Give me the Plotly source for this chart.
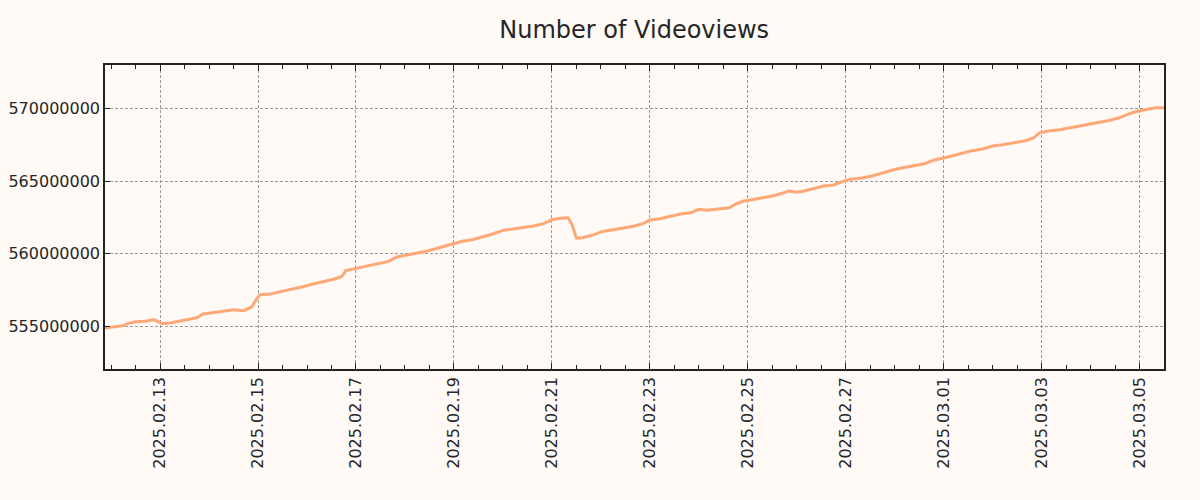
import plotly.graph_objects as go

timestamps = [
    "2025-02-11 21:00", "2025-02-12 06:00", "2025-02-12 08:00", "2025-02-12 12:00",
    "2025-02-12 17:00", "2025-02-12 21:00", "2025-02-13 01:00", "2025-02-13 03:00",
    "2025-02-13 08:00", "2025-02-13 14:00", "2025-02-13 18:00", "2025-02-13 21:00",
    "2025-02-14 02:00", "2025-02-14 07:00", "2025-02-14 12:00", "2025-02-14 17:00",
    "2025-02-14 21:00", "2025-02-14 23:00", "2025-02-15 01:00", "2025-02-15 06:00",
    "2025-02-15 11:00", "2025-02-15 15:00", "2025-02-15 22:00", "2025-02-16 03:00",
    "2025-02-16 08:00", "2025-02-16 13:00", "2025-02-16 17:00", "2025-02-16 19:00",
    "2025-02-17 00:00", "2025-02-17 05:00", "2025-02-17 12:00", "2025-02-17 16:00",
    "2025-02-17 20:00", "2025-02-18 01:00", "2025-02-18 06:00", "2025-02-18 11:00",
    "2025-02-18 15:00", "2025-02-18 20:00", "2025-02-19 00:00", "2025-02-19 04:00",
    "2025-02-19 09:00", "2025-02-19 14:00", "2025-02-19 19:00", "2025-02-20 00:00",
    "2025-02-20 05:00", "2025-02-20 10:00", "2025-02-20 15:00", "2025-02-20 20:00",
    "2025-02-21 00:00", "2025-02-21 04:00", "2025-02-21 08:00", "2025-02-21 10:00",
    "2025-02-21 12:00", "2025-02-21 15:00", "2025-02-21 20:00", "2025-02-22 01:00",
    "2025-02-22 06:00", "2025-02-22 11:00", "2025-02-22 16:00", "2025-02-22 21:00",
    "2025-02-23 00:00", "2025-02-23 05:00", "2025-02-23 10:00", "2025-02-23 15:00",
    "2025-02-23 20:00", "2025-02-24 00:00", "2025-02-24 04:00", "2025-02-24 10:00",
    "2025-02-24 15:00", "2025-02-24 18:00", "2025-02-24 22:00", "2025-02-25 02:00",
    "2025-02-25 07:00", "2025-02-25 12:00", "2025-02-25 17:00", "2025-02-25 20:00",
    "2025-02-26 00:00", "2025-02-26 03:00", "2025-02-26 08:00", "2025-02-26 13:00",
    "2025-02-26 18:00", "2025-02-26 23:00", "2025-02-27 03:00", "2025-02-27 08:00",
    "2025-02-27 13:00", "2025-02-27 18:00", "2025-02-27 23:00", "2025-02-28 04:00",
    "2025-02-28 09:00", "2025-02-28 14:00", "2025-02-28 19:00", "2025-03-01 00:00",
    "2025-03-01 04:00", "2025-03-01 09:00", "2025-03-01 14:00", "2025-03-01 19:00",
    "2025-03-02 00:00", "2025-03-02 05:00", "2025-03-02 08:00", "2025-03-02 13:00",
    "2025-03-02 16:00", "2025-03-02 20:00", "2025-03-02 23:00", "2025-03-03 04:00",
    "2025-03-03 09:00", "2025-03-03 14:00", "2025-03-03 19:00", "2025-03-03 23:00",
    "2025-03-04 04:00", "2025-03-04 09:00", "2025-03-04 14:00", "2025-03-04 19:00",
    "2025-03-05 00:00", "2025-03-05 05:00", "2025-03-05 08:00", "2025-03-05 12:00",
]

views_millions = [
    554.90, 555.06, 555.20, 555.33, 555.36, 555.47, 555.20, 555.20,
    555.33, 555.50, 555.60, 555.86, 555.98, 556.05, 556.16, 556.09,
    556.36, 556.83, 557.19, 557.24, 557.40, 557.51, 557.74, 557.92,
    558.06, 558.25, 558.43, 558.84, 559.00, 559.16, 559.37, 559.48,
    559.78, 559.92, 560.03, 560.19, 560.35, 560.54, 560.72, 560.86,
    560.97, 561.15, 561.36, 561.61, 561.70, 561.77, 561.91, 562.07,
    562.34, 562.44, 562.48, 561.98, 561.07, 561.10, 561.29, 561.54,
    561.66, 561.75, 561.89, 562.09, 562.33, 562.41, 562.55, 562.74,
    562.82, 563.06, 562.99, 563.06, 563.17, 563.42, 563.63, 563.72,
    563.83, 563.97, 564.16, 564.32, 564.23, 564.30, 564.47, 564.66,
    564.73, 565.00, 565.14, 565.21, 565.35, 565.57, 565.76, 565.92,
    566.05, 566.17, 566.43, 566.58, 566.72, 566.91, 567.09, 567.20,
    567.41, 567.50, 567.57, 567.68, 567.77, 567.96, 568.32, 568.46,
    568.53, 568.67, 568.80, 568.94, 569.08, 569.17, 569.35, 569.63,
    569.84, 569.95, 570.04, 570.04,
]

views = [v * 1_000_000 for v in views_millions]

y_tick_values = [555000000, 560000000, 565000000, 570000000]
y_range = [552080000, 572980000]
x_range = ["2025-02-11 21:00", "2025-03-05 12:00"]

BG = "#fffaf5"
TEXT = "#262626"
FONT = "DejaVu Sans"

fig = go.Figure()
fig.add_trace(go.Scatter(
    x=timestamps, y=views, mode="lines",
    line=dict(color="#ffa877", width=3),
    showlegend=False,
))

fig.update_layout(
    width=1200, height=500,
    paper_bgcolor=BG, plot_bgcolor=BG,
    margin=dict(l=105, r=36, t=65, b=131, autoexpand=False),
    font=dict(family=FONT, size=16, color=TEXT),
    title=dict(text="Number of Videoviews", x=0.5285, xanchor="center",
               y=0.94, yanchor="middle",
               font=dict(family=FONT, size=24, color=TEXT)),
)

fig.update_xaxes(
    type="date", range=x_range, automargin=False,
    tick0="2025-02-13", dtick=2 * 86400000,
    tickformat="%Y.%m.%d", tickangle=-90,
    ticks="inside", ticklen=6, tickwidth=1.2, tickcolor="#222",
    showline=True, linecolor="#222", linewidth=1.5, mirror="ticks",
    showgrid=True, gridcolor="#999999", gridwidth=1, griddash="3px,2px",
    minor=dict(dtick=12 * 3600000, tick0="2025-02-13", ticks="inside",
               ticklen=4, tickwidth=1, tickcolor="#222", showgrid=False),
    zeroline=False, ticklabelstandoff=0,
)

fig.update_yaxes(
    range=y_range, tickvals=y_tick_values, tickformat="d", automargin=False,
    ticks="inside", ticklen=5, tickwidth=1.2, tickcolor="#222",
    showline=True, linecolor="#222", linewidth=1.5, mirror=True,
    showgrid=True, gridcolor="#999999", gridwidth=1, griddash="3px,2px",
    zeroline=False, ticklabelstandoff=0,
)

fig.write_html("out.html")
